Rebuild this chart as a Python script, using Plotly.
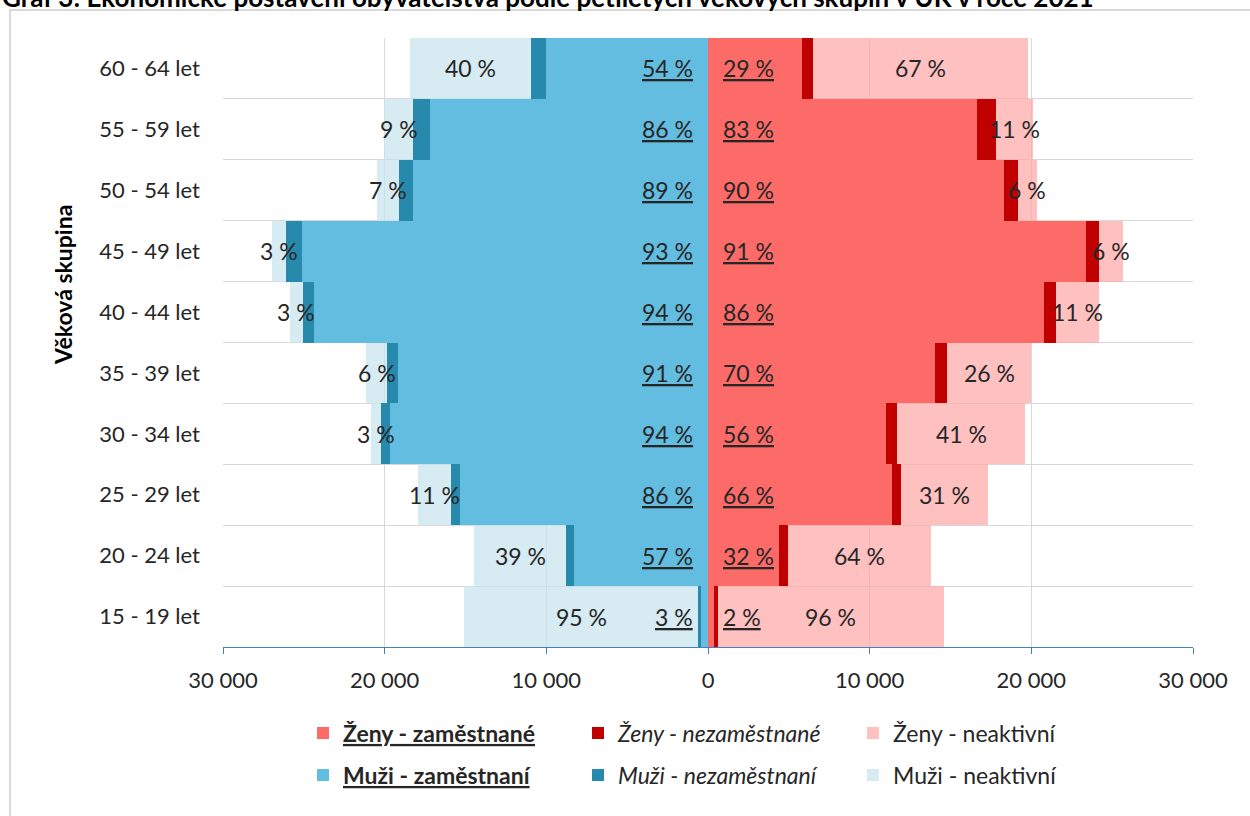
import plotly.graph_objects as go

# ---- data (bottom to top) ----
age_groups = ["15 - 19 let", "20 - 24 let", "25 - 29 let", "30 - 34 let", "35 - 39 let",
              "40 - 44 let", "45 - 49 let", "50 - 54 let", "55 - 59 let", "60 - 64 let"]

men_employed = [440, 8270, 15340, 19690, 19190, 24350, 25100, 18260, 17200, 10020]
men_unemployed = [200, 530, 530, 530, 640, 720, 1000, 840, 1040, 930]
men_inactive = [14430, 5650, 2060, 640, 1340, 780, 900, 1400, 1800, 7500]

women_employed = [350, 4390, 11400, 10990, 14020, 20760, 23380, 18290, 16640, 5840]
women_unemployed = [270, 580, 560, 720, 780, 790, 780, 880, 1170, 630]
women_inactive = [13960, 8800, 5380, 7920, 5200, 2610, 1500, 1180, 2290, 13320]

men_emp_labels = ["3 %", "57 %", "86 %", "94 %", "91 %", "94 %", "93 %", "89 %", "86 %", "54 %"]
men_inact_labels = ["95 %", "39 %", "11 %", "3 %", "6 %", "3 %", "3 %", "7 %", "9 %", "40 %"]
women_emp_labels = ["2 %", "32 %", "66 %", "56 %", "70 %", "86 %", "91 %", "90 %", "83 %", "29 %"]
women_inact_labels = ["96 %", "64 %", "31 %", "41 %", "26 %", "11 %", "6 %", "6 %", "11 %", "67 %"]

x_tickvals = [-30000, -20000, -10000, 0, 10000, 20000, 30000]
x_ticktext = ["30 000", "20 000", "10 000", "0", "10 000", "20 000", "30 000"]

title_text = "Graf 3: Ekonomické postavení obyvatelstva podle pětiletých věkových skupin v ÚK v roce 2021"

FONT = "Lato, 'Open Sans', sans-serif"
TXT = "#262626"

C_W_EMP = "#FC6B68"
C_W_UNE = "#C00000"
C_W_INA = "rgba(255,165,165,0.7)"
C_M_EMP = "#63BDE0"
C_M_UNE = "#2789AB"
C_M_INA = "rgba(198,226,238,0.7)"

fig = go.Figure()

def neg(v):
    return [-a for a in v]

fig.add_trace(go.Bar(y=age_groups, x=women_employed, orientation="h", name="<b><u>Ženy - zaměstnané</u></b>",
                     marker=dict(color=C_W_EMP, line=dict(width=0)), legend="legend"))
fig.add_trace(go.Bar(y=age_groups, x=women_unemployed, orientation="h", name="<i>Ženy - nezaměstnané</i>",
                     marker=dict(color=C_W_UNE, line=dict(width=0)), legend="legend"))
fig.add_trace(go.Bar(y=age_groups, x=women_inactive, orientation="h", name="Ženy - neaktivní",
                     marker=dict(color=C_W_INA, line=dict(width=0)), legend="legend"))
fig.add_trace(go.Bar(y=age_groups, x=neg(men_employed), orientation="h", name="<b><u>Muži - zaměstnaní</u></b>",
                     marker=dict(color=C_M_EMP, line=dict(width=0)), legend="legend2"))
fig.add_trace(go.Bar(y=age_groups, x=neg(men_unemployed), orientation="h", name="<i>Muži - nezaměstnaní</i>",
                     marker=dict(color=C_M_UNE, line=dict(width=0)), legend="legend2"))
fig.add_trace(go.Bar(y=age_groups, x=neg(men_inactive), orientation="h", name="Muži - neaktivní",
                     marker=dict(color=C_M_INA, line=dict(width=0)), legend="legend2"))

LBL = dict(family=FONT, size=23, color=TXT)
annotations = []
for i, g in enumerate(age_groups):
    # employed labels near zero line
    annotations.append(dict(x=0, y=g, xref="x", yref="y", text="<u>" + men_emp_labels[i] + "</u>",
                            showarrow=False, xanchor="right", xshift=-13, font=LBL))
    annotations.append(dict(x=0, y=g, xref="x", yref="y", text="<u>" + women_emp_labels[i] + "</u>",
                            showarrow=False, xanchor="left", xshift=13, font=LBL))
    # inactive labels centred in their segment
    mc = -(men_employed[i] + men_unemployed[i] + men_inactive[i] / 2)
    wc = women_employed[i] + women_unemployed[i] + women_inactive[i] / 2
    annotations.append(dict(x=mc, y=g, xref="x", yref="y", text=men_inact_labels[i],
                            showarrow=False, xanchor="center", font=LBL))
    annotations.append(dict(x=wc, y=g, xref="x", yref="y", text=women_inact_labels[i],
                            showarrow=False, xanchor="center", font=LBL))

# axis title
annotations.append(dict(x=(63 - 223) / 970, y=(647 - 285) / 609, xref="paper", yref="paper",
                        text="<b>Věková skupina</b>", textangle=-90, showarrow=False,
                        xanchor="center", yanchor="middle",
                        font=dict(family=FONT, size=23, color="#000000")))
# chart title (cut off at top edge, as in the source)
annotations.append(dict(x=(0 - 223) / 970, y=1 + (38 - 15) / 609, xref="paper", yref="paper",
                        text="<b>" + title_text + "</b>", showarrow=False,
                        xanchor="left", yanchor="bottom",
                        font=dict(family=FONT, size=26, color="#000000")))

LEG_FONT = dict(family=FONT, size=23, color=TXT)

fig.update_layout(
    width=1250, height=816, autosize=False,
    margin=dict(l=223, r=57, t=38, b=169),
    paper_bgcolor="white", plot_bgcolor="white",
    barmode="relative", bargap=0,
    font=dict(family=FONT, size=20, color=TXT),
    annotations=annotations,
    shapes=[dict(type="rect", xref="paper", yref="paper",
                 x0=(10 - 223) / 970, x1=(1262 - 223) / 970,
                 y0=-(830 - 647) / 609, y1=1 + (38 - 10) / 609,
                 line=dict(color="#d9d9d9", width=2), fillcolor="rgba(0,0,0,0)", layer="below")],
    xaxis=dict(range=[-30000, 30000], tickvals=x_tickvals, ticktext=x_ticktext,
               showgrid=True, gridcolor="#d9d9d9", gridwidth=1, zeroline=False,
               showline=True, linecolor="#4A7EBB", linewidth=1,
               ticks="outside", ticklen=6, tickcolor="#4A7EBB",
               ticklabelstandoff=8,
               tickfont=dict(family=FONT, size=22, color=TXT)),
    yaxis=dict(type="category", categoryorder="array", categoryarray=age_groups,
               tickson="boundaries", showgrid=True, gridcolor="#d9d9d9", gridwidth=1,
               ticks="", showline=False, zeroline=False, ticklabelstandoff=22,
               tickfont=dict(family=FONT, size=22, color=TXT)),
    legend=dict(orientation="h", x=(303 - 223) / 970, xanchor="left",
                y=(647 - 733) / 609, yanchor="middle",
                entrywidth=230, entrywidthmode="pixels", traceorder="normal",
                bgcolor="rgba(0,0,0,0)", font=LEG_FONT),
    legend2=dict(orientation="h", x=(303 - 223) / 970, xanchor="left",
                 y=(647 - 775) / 609, yanchor="middle",
                 entrywidth=230, entrywidthmode="pixels", traceorder="normal",
                 bgcolor="rgba(0,0,0,0)", font=LEG_FONT),
)

fig.write_html("out.html", config={"displayModeBar": False},
               post_script="document.body.style.margin='0px';")
